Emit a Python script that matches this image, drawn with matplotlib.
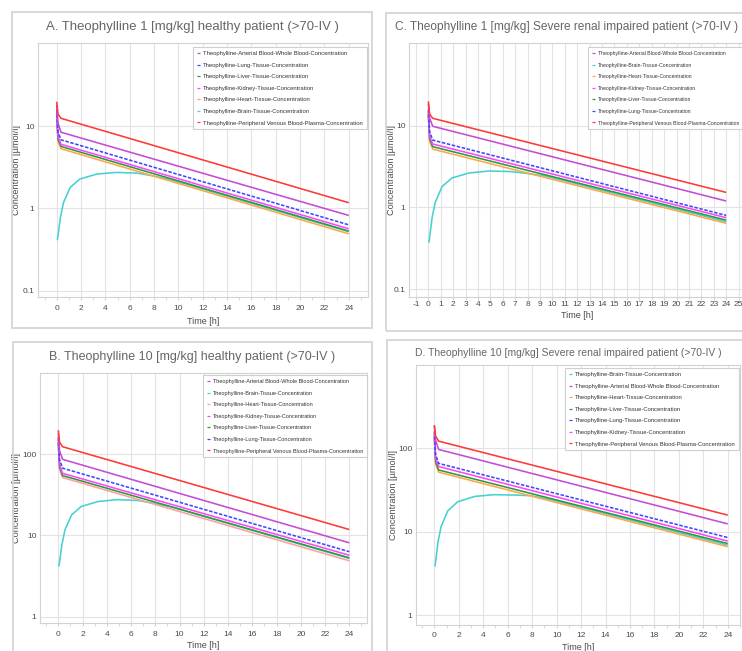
import matplotlib
matplotlib.use("Agg")
import matplotlib.pyplot as plt
from matplotlib.patches import Rectangle
from matplotlib.ticker import FixedLocator, FixedFormatter, NullLocator

plt.rcParams['font.family'] = ['Liberation Sans Narrow', 'Liberation Sans', 'DejaVu Sans']

# ---------------- data ----------------
T_LINE = [0.0, 0.1, 0.35, 24.0]
T_BRAIN = [0.05, 0.3, 0.55, 1.1, 1.9, 3.3, 4.9, 6.6, 7.9, 9.5, 24.0]

# A. 1 mg/kg healthy
A_ARTERIAL = [18.0, 11.0, 8.4, 0.82]
A_LUNG = [16.0, 8.5, 6.8, 0.63]
A_LIVER = [14.0, 7.0, 5.65, 0.53]
A_KIDNEY = [15.0, 7.5, 6.0, 0.565]
A_HEART = [13.0, 6.5, 5.3, 0.49]
A_BRAIN = [0.41, 0.77, 1.17, 1.79, 2.27, 2.61, 2.73, 2.68, 2.48, 2.2, 0.52]
A_PLASMA = [19.7, 14.0, 12.4, 1.17]

# B. 10 mg/kg healthy
B_ARTERIAL = [180.0, 110.0, 86.0, 8.1]
B_LUNG = [160.0, 85.0, 67.0, 6.3]
B_LIVER = [140.0, 70.0, 54.4, 5.3]
B_KIDNEY = [150.0, 75.0, 58.0, 5.7]
B_HEART = [130.0, 65.0, 51.4, 4.87]
B_BRAIN = [4.15, 7.7, 11.7, 17.9, 22.7, 26.1, 27.5, 26.8, 24.8, 22.0, 5.2]
B_PLASMA = [196.0, 140.0, 123.0, 11.8]

# C. 1 mg/kg severe renal impaired
C_ARTERIAL = [18.5, 12.5, 9.9, 1.2]
C_LUNG = [16.0, 8.5, 6.7, 0.8]
C_LIVER = [14.0, 7.0, 5.57, 0.70]
C_KIDNEY = [15.0, 7.5, 6.0, 0.75]
C_HEART = [13.0, 6.5, 5.2, 0.64]
C_BRAIN = [0.37, 0.75, 1.15, 1.8, 2.3, 2.65, 2.8, 2.76, 2.62, 2.42, 0.67]
C_PLASMA = [20.0, 14.0, 12.4, 1.53]

# D. 10 mg/kg severe renal impaired
D_ARTERIAL = [185.0, 125.0, 97.0, 12.4]
D_LUNG = [160.0, 85.0, 66.0, 8.5]
D_LIVER = [140.0, 70.0, 55.0, 7.2]
D_KIDNEY = [150.0, 76.0, 60.5, 7.7]
D_HEART = [130.0, 65.0, 51.8, 6.6]
D_BRAIN = [3.8, 7.5, 11.5, 17.8, 22.8, 26.5, 27.8, 27.5, 27.0, 24.3, 6.9]
D_PLASMA = [190.0, 140.0, 122.0, 15.8]

LBL_ART = 'Theophylline-Arterial Blood-Whole Blood-Concentration'
LBL_LUNG = 'Theophylline-Lung-Tissue-Concentration'
LBL_LIVER = 'Theophylline-Liver-Tissue-Concentration'
LBL_KIDNEY = 'Theophylline-Kidney-Tissue-Concentration'
LBL_HEART = 'Theophylline-Heart-Tissue-Concentration'
LBL_BRAIN = 'Theophylline-Brain-Tissue-Concentration'
LBL_PLASMA = 'Theophylline-Peripheral Venous Blood-Plasma-Concentration'

TITLE_A = 'A. Theophylline 1 [mg/kg] healthy patient (>70-IV )'
TITLE_B = 'B. Theophylline 10 [mg/kg] healthy patient (>70-IV )'
TITLE_C = 'C. Theophylline 1 [mg/kg] Severe renal impaired patient (>70-IV )'
TITLE_D = 'D. Theophylline 10 [mg/kg] Severe renal impaired patient (>70-IV )'

X_TICKS_EVEN = [0, 2, 4, 6, 8, 10, 12, 14, 16, 18, 20, 22, 24]
X_MINOR_ODD = [-1, 1, 3, 5, 7, 9, 11, 13, 15, 17, 19, 21, 23, 25]
X_TICKS_ALL = [-1, 0, 1, 2, 3, 4, 5, 6, 7, 8, 9, 10, 11, 12, 13,
               14, 15, 16, 17, 18, 19, 20, 21, 22, 23, 24, 25]
Y_TICKS_LOW = [0.1, 1, 10]
Y_LABELS_LOW = ['0.1', '1', '10']
Y_TICKS_HIGH = [1, 10, 100]
Y_LABELS_HIGH = ['1', '10', '100']

XLABEL = 'Time [h]'
YLABEL = 'Concentration [µmol/l]'

# ---------------- styling ----------------
COL = {
    'art': '#c44cd6', 'lung': '#4048ff', 'liver': '#2e9a3e', 'kidney': '#ff45ff',
    'heart': '#ffa648', 'brain': '#45d2cf', 'plasma': '#ff3838',
}
LBL = {'art': LBL_ART, 'lung': LBL_LUNG, 'liver': LBL_LIVER, 'kidney': LBL_KIDNEY,
       'heart': LBL_HEART, 'brain': LBL_BRAIN, 'plasma': LBL_PLASMA}

W, H = 742, 651
fig = plt.figure(figsize=(W / 100, H / 100), dpi=100)
renderer = fig.canvas.get_renderer()

GRID = '#e3e3e3'
SPINE = '#d2d2d2'
TXT = '#4a4a4a'


def fx(x):
    return x / W


def fy(y):
    return 1 - y / H


def fit_width(t, target):
    w = t.get_window_extent(renderer).width
    t.set_fontsize(t.get_fontsize() * target / w)


def panel(border, title, title_c, title_w, axpx, xlim, ylim, xmajor, xminor,
          yticks, ylabels, ylab_x, xlab_y, xpad, leg_xy, leg_w, data, order, heart_col):
    x0, y0, x1, y1 = border
    fig.patches.append(Rectangle((fx(x0), fy(y1)), (x1 - x0) / W, (y1 - y0) / H,
                                 transform=fig.transFigure, fill=False,
                                 edgecolor='#d6d6d6', lw=1.3, zorder=0))
    t = fig.text(fx(title_c[0]), fy(title_c[1]), title, ha='center', va='center',
                 color='#666666', fontsize=12)
    fit_width(t, title_w)

    ax0, ay0, ax1, ay1 = axpx
    ax = fig.add_axes([fx(ax0), fy(ay1), (ax1 - ax0) / W, (ay1 - ay0) / H])
    ax.set_yscale('log')
    ax.set_xlim(*xlim)
    ax.set_ylim(*ylim)
    ax.xaxis.set_major_locator(FixedLocator(xmajor))
    ax.xaxis.set_major_formatter(FixedFormatter([str(v) for v in xmajor]))
    if xminor:
        ax.xaxis.set_minor_locator(FixedLocator(xminor))
    else:
        ax.xaxis.set_minor_locator(NullLocator())
    ax.yaxis.set_major_locator(FixedLocator(yticks))
    ax.yaxis.set_major_formatter(FixedFormatter(ylabels))
    ax.yaxis.set_minor_locator(NullLocator())
    ax.grid(True, which='major', color=GRID, lw=0.8)
    ax.set_axisbelow(True)
    for s in ax.spines.values():
        s.set_color(SPINE)
        s.set_linewidth(0.8)
    ax.tick_params(axis='x', which='both', length=2, color=SPINE, labelsize=6,
                   labelcolor=TXT, pad=xpad)
    ax.tick_params(axis='y', which='both', length=0, labelsize=6, labelcolor=TXT, pad=2.5)

    ax.set_xlabel(XLABEL, fontsize=6.5, color=TXT)
    ax.xaxis.set_label_coords(fx((ax0 + ax1) / 2), fy(xlab_y), transform=fig.transFigure)
    ax.xaxis.label.set_va('center')
    ax.set_ylabel(YLABEL, fontsize=6.6, color=TXT)
    ax.yaxis.set_label_coords(fx(ylab_x), fy((ay0 + ay1) / 2), transform=fig.transFigure)
    ax.yaxis.label.set_va('center')

    handles = {}
    for key in ['brain', 'heart', 'liver', 'kidney', 'lung', 'art', 'plasma']:
        tt = T_BRAIN if key == 'brain' else T_LINE
        col = heart_col if key == 'heart' else COL[key]
        ls = (0, (2.2, 1.0)) if key == 'lung' else '-'
        ln, = ax.plot(tt, data[key], color=col, lw=1.15, ls=ls, label=LBL[key],
                      zorder=2 if key == 'brain' else 3, solid_capstyle='butt')
        handles[key] = ln
    hs = [handles[k] for k in order]
    leg = fig.legend(hs, [LBL[k] for k in order], loc='upper left',
                     bbox_to_anchor=(fx(leg_xy[0]), fy(leg_xy[1])),
                     bbox_transform=fig.transFigure, fontsize=4.6, frameon=True,
                     fancybox=False, edgecolor='#cfcfcf', framealpha=1,
                     handlelength=0.55, handletextpad=0.45, borderpad=0.6,
                     labelspacing=0.95, borderaxespad=0)
    leg.get_frame().set_linewidth(0.8)
    for ln in leg.get_lines():
        ln.set_linewidth(0.9)
        ln.set_linestyle('-')
    for tx in leg.get_texts():
        tx.set_color('#333333')
    # fit legend font to measured width of the longest entry
    longest = max(leg.get_texts(), key=lambda tx: tx.get_window_extent(renderer).width)
    scale = leg_w / longest.get_window_extent(renderer).width
    for tx in leg.get_texts():
        tx.set_fontsize(tx.get_fontsize() * scale)
    return ax


panel(border=(12, 12, 372, 328), title=TITLE_A, title_c=(192, 27), title_w=292,
      axpx=(38, 43, 368, 297), xlim=(-1.54, 25.58), ylim=(0.0838, 101.9),
      xmajor=X_TICKS_EVEN, xminor=X_MINOR_ODD, yticks=Y_TICKS_LOW, ylabels=Y_LABELS_LOW,
      ylab_x=17, xlab_y=321, xpad=3.5, leg_xy=(193, 47), leg_w=161,
      data={'art': A_ARTERIAL, 'lung': A_LUNG, 'liver': A_LIVER, 'kidney': A_KIDNEY,
            'heart': A_HEART, 'brain': A_BRAIN, 'plasma': A_PLASMA},
      order=['art', 'lung', 'liver', 'kidney', 'heart', 'brain', 'plasma'],
      heart_col=COL['heart'])

panel(border=(386, 13, 746, 331), title=TITLE_C, title_c=(567, 27), title_w=343,
      axpx=(409, 43, 746, 297), xlim=(-1.56, 25.6), ylim=(0.0798, 104),
      xmajor=X_TICKS_ALL, xminor=None, yticks=Y_TICKS_LOW, ylabels=Y_LABELS_LOW,
      ylab_x=391, xlab_y=315, xpad=0.8, leg_xy=(588, 47), leg_w=139,
      data={'art': C_ARTERIAL, 'lung': C_LUNG, 'liver': C_LIVER, 'kidney': C_KIDNEY,
            'heart': C_HEART, 'brain': C_BRAIN, 'plasma': C_PLASMA},
      order=['art', 'brain', 'heart', 'kidney', 'liver', 'lung', 'plasma'],
      heart_col=COL['heart'])

panel(border=(13, 342, 372, 660), title=TITLE_B, title_c=(192, 357), title_w=285,
      axpx=(40, 373, 367, 623), xlim=(-1.51, 25.46), ylim=(0.837, 991),
      xmajor=X_TICKS_EVEN, xminor=X_MINOR_ODD, yticks=Y_TICKS_HIGH, ylabels=Y_LABELS_HIGH,
      ylab_x=17, xlab_y=646, xpad=3.5, leg_xy=(203, 375), leg_w=150,
      data={'art': B_ARTERIAL, 'lung': B_LUNG, 'liver': B_LIVER, 'kidney': B_KIDNEY,
            'heart': B_HEART, 'brain': B_BRAIN, 'plasma': B_PLASMA},
      order=['art', 'brain', 'heart', 'kidney', 'liver', 'lung', 'plasma'],
      heart_col='#ff9f9c')

panel(border=(387, 340, 746, 660), title=TITLE_D, title_c=(568, 353), title_w=305,
      axpx=(416, 365, 740, 625), xlim=(-1.5, 25.0), ylim=(0.759, 1000),
      xmajor=X_TICKS_EVEN, xminor=X_MINOR_ODD, yticks=Y_TICKS_HIGH, ylabels=Y_LABELS_HIGH,
      ylab_x=393, xlab_y=647, xpad=3.0, leg_xy=(565, 368), leg_w=160,
      data={'art': D_ARTERIAL, 'lung': D_LUNG, 'liver': D_LIVER, 'kidney': D_KIDNEY,
            'heart': D_HEART, 'brain': D_BRAIN, 'plasma': D_PLASMA},
      order=['brain', 'art', 'heart', 'liver', 'lung', 'kidney', 'plasma'],
      heart_col=COL['heart'])

fig.savefig('out.png', dpi=100, facecolor='white')
